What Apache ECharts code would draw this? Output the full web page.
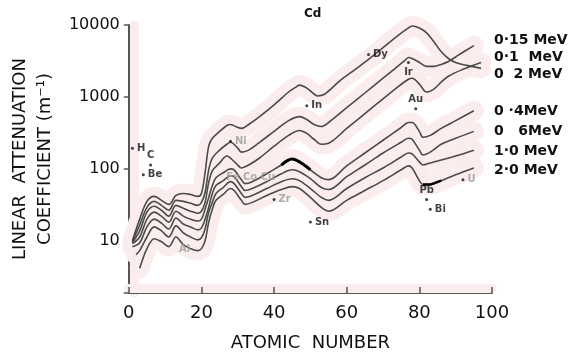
<!DOCTYPE html>
<html>
<head>
<meta charset="utf-8">
<script src="https://cdn.jsdelivr.net/npm/echarts@6/dist/echarts.min.js"></script>
<style>
  html, body { margin: 0; padding: 0; background: #fff; }
  #chart { width: 574px; height: 357px; }
</style>
</head>
<body>
<div id="chart"></div>
<script>
// atomic number (Z) and linear attenuation coefficient (m^-1)
const zT1 = [1,3,5,7,9,11,13,15,17,19,20,21,22,23,25,27,28,30,31,33,36,40,44,46,47,49,51,52,54,58,62,66,70,74,77,78,80,82,84,86,88,90,93,97];
const muT1 = [10.0,20.0,35.3,41.4,36.5,32.1,42.7,45.5,44.1,41.4,45.5,88.3,207,266,332,401,414,376,365,414,533,778,1171,1371,1460,1328,1099,1032,1099,1656,2344,3317,4845,7076,9108,9702,9108,7778,5855,4270,3423,3017,2745,2497];

const zT2 = [1,3,5,7,9,11,13,15,17,19,20,21,22,23,25,27,28,30,31,33,36,40,44,47,49,51,53,55,60,65,70,74,76,77,78,80,82,84,86,88,91,95];
const muT2 = [9.70,16.6,29.2,35.3,31.1,26.6,36.5,35.3,33.2,31.1,34.2,46.9,97.0,141.5,182,220,234,194,171,182,234,332,469,533,485,414,388,441,708,1134,1821,2659,3214,3533,3423,3017,2659,2659,2833,3114,3884,5160];

const zT3 = [1,3,5,7,9,11,13,15,17,19,20,21,22,23,25,27,28,30,31,33,36,40,44,47,49,51,53,55,60,65,70,74,77,78,80,82,84,86,88,92,97];
const muT3 = [9.40,13.7,25.0,30.2,26.6,22.0,31.1,28.3,25.8,24.2,25.8,34.2,64.4,94.0,121,151,141.5,113,103,113,141.5,207,292,342,311,258,220,227,365,586,940,1371,1764,1821,1507,1171,1287,1605,1940,2419,3017];

const zLow = [1,3,5,7,9,11,13,15,17,19,20,21,22,23,24,26,28,29,31,32,34,38,42,45,47,50,53,55,60,65,70,75,77,78,80,81,83,86,90,95];
const mu04 = [9.11,11.3,20.0,25.0,22.0,18.2,25.8,22.0,20.0,18.8,20.0,27.5,40.1,58.6,75.4,88.3,100,97.0,70.8,62.4,66.4,85.5,113,137,125,97.0,75.4,70.8,110,166,250,376,441,441,332,275,292,365,469,644];
const mu06 = [8.29,9.40,15.6,20.0,17.6,14.6,20.7,17.1,15.6,14.2,15.1,20.0,29.2,45.5,58.6,68.6,80.3,77.8,56.7,50.0,53.3,66.4,85.5,97.0,91.1,73.0,55.0,51.6,77.8,113,166,234,266,258,182,156,171,220,266,332];

const z10 = [2,3,5,7,9,11,13,15,17,19,20,21,22,23,24,26,28,29,31,32,34,38,42,45,47,50,53,55,60,65,70,75,77,78,80,81,83,86,90,95];
const mu10 = [6.44,7.30,11.3,15.6,13.7,11.3,16.1,12.9,11.3,10.3,11.0,14.6,25.0,34.2,45.5,55.0,66.4,62.4,45.5,40.1,42.7,53.3,66.4,73.0,68.6,53.3,40.1,36.5,53.3,75.4,103,146,166,161,125,113,121,133,151,182];

const z20 = [3,5,7,9,11,13,15,17,19,20,21,22,23,24,26,28,29,31,32,34,38,42,45,47,50,53,55,60,65,70,75,77,78,80,81,83,86,90,95];
const mu20 = [4.14,7.78,10.7,9.70,8.29,11.3,8.83,7.78,7.30,7.78,10.0,18.2,27.5,36.5,44.1,53.3,50.0,36.5,32.1,34.2,42.7,51.6,56.7,53.3,40.1,29.2,25.8,36.5,50.0,68.6,97.0,110,103,68.6,60.4,60.4,68.6,82.9,103];

const energyLabels = ['0·15 MeV', '0·1  MeV', '0  2 MeV', '0 ·4MeV', '0   6MeV', '1·0 MeV', '2·0 MeV'];

const elemNames = ['H', 'C', 'Be', 'Al', 'Ni', 'Fe Co Cu', 'Zr', 'In', 'Sn', 'Dy', 'Ir', 'Au', 'Pb', 'Bi', 'U'];
const elemZ = [1, 6, 4, 13, 28, 26, 40, 49, 50, 66, 77, 79, 82, 83, 92];
const elemMu = [194, 113, 82.9, 7.54, 242, 75, 37.6, 754, 18.2, 3884, 3017, 686, 37.6, 27.5, 70.8];

const yTicks = [10, 100, 1000, 10000];

const curves = [
  { name: '0.1 MeV', z: zT1, mu: muT1 },
  { name: '0.15 MeV', z: zT2, mu: muT2 },
  { name: '0.2 MeV', z: zT3, mu: muT3 },
  { name: '0.4 MeV', z: zLow, mu: mu04 },
  { name: '0.6 MeV', z: zLow, mu: mu06 },
  { name: '1.0 MeV', z: z10, mu: mu10 },
  { name: '2.0 MeV', z: z20, mu: mu20 }
];

const pairs = (z, mu) => z.map((v, i) => [v, mu[i]]);
const between = (c, a, b) => pairs(c.z, c.mu).filter(p => p[0] >= a && p[0] <= b);

const faint = ['Al', 'Ni', 'Fe Co Cu', 'Zr', 'U'];
const labelPos = { Ir: 'bottom', Au: 'top', Pb: 'top', C: 'top' };
const noDot = ['Al', 'Fe Co Cu'];
const pink = '#fbeded';

const series = [];
// pink highlight bands of the scanned figure
curves.forEach(c => {
  series.push({
    type: 'line', silent: true, symbol: 'none', smooth: 0.35, z: 1,
    data: pairs(c.z, c.mu),
    lineStyle: { color: pink, width: 20, cap: 'round', join: 'round' }
  });
});
curves.forEach(c => {
  series.push({
    name: c.name, type: 'line', symbol: 'none', smooth: 0.35, z: 3,
    data: pairs(c.z, c.mu),
    lineStyle: { color: '#4a4a4a', width: 1.6 }
  });
});
// pen strokes drawn over two curves
series.push({
  type: 'line', symbol: 'none', smooth: 0.35, z: 4, silent: true,
  data: between(curves[3], 42, 50),
  lineStyle: { color: '#000', width: 3 }
});
series.push({
  type: 'line', symbol: 'none', smooth: 0, z: 4, silent: true,
  data: between(curves[6], 81, 86),
  lineStyle: { color: '#000', width: 2.5 }
});
series.push({
  type: 'scatter', z: 5,
  data: elemNames.map((n, i) => ({
    name: n, value: [elemZ[i], elemMu[i]],
    symbolSize: noDot.includes(n) ? 0 : 3,
    label: { position: labelPos[n] || 'right', color: faint.includes(n) ? '#9a9a9a' : '#111' }
  })),
  itemStyle: { color: '#111' },
  label: {
    show: true, formatter: '{b}', fontSize: 10, distance: 3,
    fontFamily: 'DejaVu Sans', fontWeight: 'bold'
  }
});

const legendY = [42, 59, 76, 113, 133, 153, 172];
const graphic = energyLabels.map((t, i) => ({
  type: 'text', left: 494, top: legendY[i] - 9,
  style: { text: t, font: 'bold 14px "DejaVu Sans"', fill: '#111' }
}));
graphic.push({
  type: 'text', left: 304, top: 8,
  style: { text: 'Cd', font: 'bold 12px "DejaVu Sans"', fill: '#111' }
});

const chart = echarts.init(document.getElementById('chart'), null, { renderer: 'canvas' });
chart.setOption({
  animation: false,
  backgroundColor: '#fff',
  grid: { left: 128, right: 82, top: 25, bottom: 60 },
  xAxis: [{
    type: 'value', min: 0, max: 100, interval: 20,
    name: 'ATOMIC  NUMBER', nameLocation: 'middle', nameGap: 41,
    nameTextStyle: { fontFamily: 'DejaVu Sans', fontSize: 18, color: '#111' },
    axisLine: { lineStyle: { color: '#555', width: 2 } },
    axisTick: { inside: true, length: 6, lineStyle: { color: '#555', width: 1.5 } },
    axisLabel: { fontFamily: 'DejaVu Sans', fontSize: 18, color: '#111', margin: 11 },
    splitLine: { show: false }
  }, {
    // faint pink band along the x axis
    type: 'value', min: 0, max: 100, position: 'bottom', offset: -5, z: 0,
    axisLine: { lineStyle: { color: pink, width: 9 } },
    axisTick: { show: false }, axisLabel: { show: false }, splitLine: { show: false }
  }],
  yAxis: [{
    type: 'log', logBase: 10, min: 1.88, max: 10000,
    name: 'LINEAR  ATTENUATION\nCOEFFICIENT (m⁻¹)', nameLocation: 'middle', nameGap: 66,
    nameTextStyle: { fontFamily: 'DejaVu Sans', fontSize: 18, lineHeight: 25, color: '#111' },
    axisLine: { show: true, lineStyle: { color: '#555', width: 2 } },
    axisTick: { length: 5, lineStyle: { color: '#555', width: 1.5 } },
    axisLabel: {
      fontFamily: 'DejaVu Sans', fontSize: 16, color: '#111', margin: 9,
      formatter: v => {
        const t = yTicks.find(k => Math.abs(v - k) / k < 1e-6);
        return t ? String(t) : '';
      }
    },
    splitLine: { show: false }
  }, {
    // faint pink band along the y axis
    type: 'log', logBase: 10, min: 1.88, max: 10000, position: 'left', offset: -5, z: 0,
    axisLine: { show: true, lineStyle: { color: pink, width: 9 } },
    axisTick: { show: false }, axisLabel: { show: false }, splitLine: { show: false }
  }],
  graphic: graphic,
  series: series
});
</script>
</body>
</html>
